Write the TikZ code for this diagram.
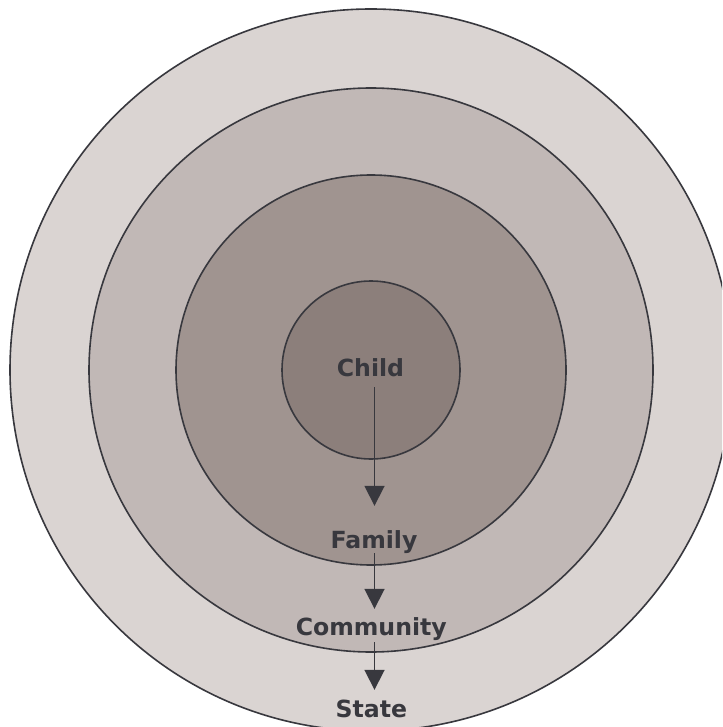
\documentclass[tikz,border=0pt]{standalone}
\usepackage{fontspec}
\setmainfont{DejaVu Sans}
\usetikzlibrary{arrows.meta}
\definecolor{ringA}{HTML}{DAD4D2}
\definecolor{ringB}{HTML}{C1B8B6}
\definecolor{ringC}{HTML}{A09490}
\definecolor{ringD}{HTML}{8C7F7B}
\definecolor{ink}{HTML}{38383E}
\tikzset{
  ring/.style={draw=ink, line width=1.6pt},
  lbl/.style={inner sep=0pt, text height=17pt, text depth=5pt, text=ink,
    font=\fontsize{23.6}{28}\selectfont\bfseries},
  arr/.style={draw=ink, line width=1.8pt, -{Triangle[width=20pt,length=20pt]}}
}
\begin{document}
\begin{tikzpicture}[x=1pt,y=-1pt]
\useasboundingbox (0,0) rectangle (722,727);
\fill[white] (0,0) rectangle (722,727);
\clip (0,0) rectangle (722,727);
\path[ring, fill=ringA] (371,370) circle[radius=361];
\path[ring, fill=ringB] (371,370) circle[radius=282];
\path[ring, fill=ringC] (371,370) circle[radius=195];
\path[ring, fill=ringD] (371,370) circle[radius=89];
\node[lbl] (child) at (370.5,370) {Child};
\node[lbl] (family) at (374,542) {Family};
\node[lbl] (community) at (371.3,629) {Community};
\node[lbl] (state) at (371.3,711) {State};
\coordinate (axis) at (374.5,0);
\draw[arr, shorten <=6pt, shorten >=25pt] (child.south -| axis) -- (family.north -| axis);
\draw[arr, shorten <=0pt, shorten >=9pt] (family.south -| axis) -- (community.north -| axis);
\draw[arr, shorten <=2pt, shorten >=10pt] (community.south -| axis) -- (state.north -| axis);
\end{tikzpicture}
\end{document}
